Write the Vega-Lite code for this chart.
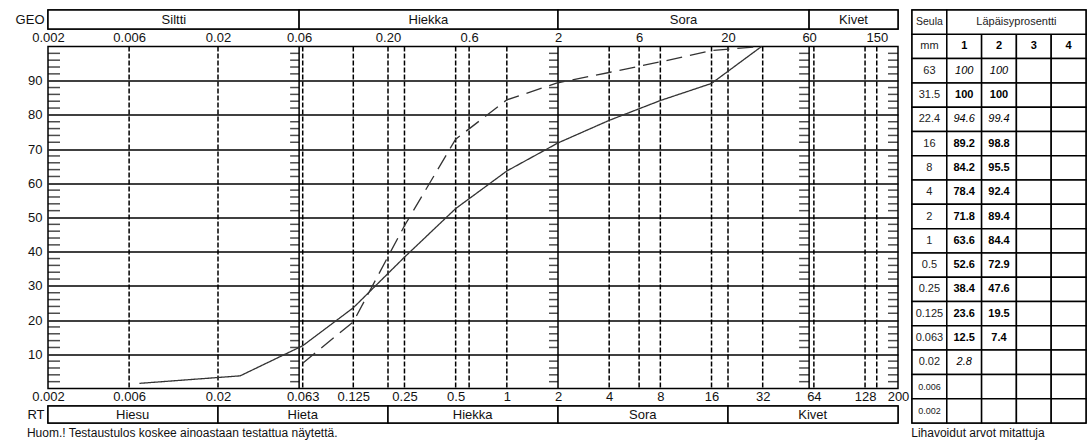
{
  "$schema": "https://vega.github.io/schema/vega-lite/v6.json",
  "background": "white",
  "padding": {"left": 14, "top": 8, "right": 0, "bottom": 0},
  "config": {
    "font": "Liberation Sans",
    "view": {"stroke": "black", "strokeWidth": 1.5},
    "axis": {"labelFont": "Liberation Sans", "labelColor": "#111"},
    "title": {"font": "Liberation Sans", "color": "#111", "fontWeight": "normal"}
  },
  "datasets": {
    "geo": [
      {"band": "GEO", "name": "Siltti", "from": 0.002, "to": 0.06, "mid": 0.011},
      {"band": "GEO", "name": "Hiekka", "from": 0.06, "to": 2, "mid": 0.346},
      {"band": "GEO", "name": "Sora", "from": 2, "to": 60, "mid": 10.95},
      {"band": "GEO", "name": "Kivet", "from": 60, "to": 200, "mid": 109.5}
    ],
    "rt": [
      {"band": "RT", "name": "Hiesu", "from": 0.002, "to": 0.02, "mid": 0.0063},
      {"band": "RT", "name": "Hieta", "from": 0.02, "to": 0.2, "mid": 0.063},
      {"band": "RT", "name": "Hiekka", "from": 0.2, "to": 2, "mid": 0.63},
      {"band": "RT", "name": "Sora", "from": 2, "to": 20, "mid": 6.3},
      {"band": "RT", "name": "Kivet", "from": 20, "to": 200, "mid": 63}
    ],
    "dashlines": [
      {"d": 0.006}, {"d": 0.02}, {"d": 0.063}, {"d": 0.125}, {"d": 0.2}, {"d": 0.25},
      {"d": 0.5}, {"d": 0.6}, {"d": 1}, {"d": 4}, {"d": 6}, {"d": 8}, {"d": 16},
      {"d": 20}, {"d": 32}, {"d": 64}, {"d": 128}, {"d": 150}
    ],
    "solidlines": [{"d": 0.06}, {"d": 2}, {"d": 60}],
    "minor": [
      {"p": 2}, {"p": 4}, {"p": 6}, {"p": 8}, {"p": 12}, {"p": 14}, {"p": 16}, {"p": 18},
      {"p": 22}, {"p": 24}, {"p": 26}, {"p": 28}, {"p": 32}, {"p": 34}, {"p": 36}, {"p": 38},
      {"p": 42}, {"p": 44}, {"p": 46}, {"p": 48}, {"p": 52}, {"p": 54}, {"p": 56}, {"p": 58},
      {"p": 62}, {"p": 64}, {"p": 66}, {"p": 68}, {"p": 72}, {"p": 74}, {"p": 76}, {"p": 78},
      {"p": 82}, {"p": 84}, {"p": 86}, {"p": 88}, {"p": 92}, {"p": 94}, {"p": 96}, {"p": 98}
    ],
    "curves": [
      {"s": "1", "d": 0.0069, "p": 1.5},
      {"s": "1", "d": 0.027, "p": 3.7},
      {"s": "1", "d": 0.063, "p": 12.5},
      {"s": "1", "d": 0.125, "p": 23.6},
      {"s": "1", "d": 0.25, "p": 38.4},
      {"s": "1", "d": 0.5, "p": 52.6},
      {"s": "1", "d": 1, "p": 63.6},
      {"s": "1", "d": 2, "p": 71.8},
      {"s": "1", "d": 4, "p": 78.4},
      {"s": "1", "d": 8, "p": 84.2},
      {"s": "1", "d": 16, "p": 89.2},
      {"s": "1", "d": 31.5, "p": 100},
      {"s": "2", "d": 0.063, "p": 7.4},
      {"s": "2", "d": 0.125, "p": 19.5},
      {"s": "2", "d": 0.25, "p": 47.6},
      {"s": "2", "d": 0.5, "p": 72.9},
      {"s": "2", "d": 1, "p": 84.4},
      {"s": "2", "d": 2, "p": 89.4},
      {"s": "2", "d": 4, "p": 92.4},
      {"s": "2", "d": 8, "p": 95.5},
      {"s": "2", "d": 16, "p": 98.8},
      {"s": "2", "d": 22.4, "p": 99.4},
      {"s": "2", "d": 31.5, "p": 100}
    ],
    "tbl": [
      {"row": "mm", "c1": "1", "c2": "2", "c3": "3", "c4": "4", "kind": "h"},
      {"row": "63", "c1": "100", "c2": "100", "c3": "", "c4": "", "kind": "c"},
      {"row": "31.5", "c1": "100", "c2": "100", "c3": "", "c4": "", "kind": "m"},
      {"row": "22.4", "c1": "94.6", "c2": "99.4", "c3": "", "c4": "", "kind": "c"},
      {"row": "16", "c1": "89.2", "c2": "98.8", "c3": "", "c4": "", "kind": "m"},
      {"row": "8", "c1": "84.2", "c2": "95.5", "c3": "", "c4": "", "kind": "m"},
      {"row": "4", "c1": "78.4", "c2": "92.4", "c3": "", "c4": "", "kind": "m"},
      {"row": "2", "c1": "71.8", "c2": "89.4", "c3": "", "c4": "", "kind": "m"},
      {"row": "1", "c1": "63.6", "c2": "84.4", "c3": "", "c4": "", "kind": "m"},
      {"row": "0.5", "c1": "52.6", "c2": "72.9", "c3": "", "c4": "", "kind": "m"},
      {"row": "0.25", "c1": "38.4", "c2": "47.6", "c3": "", "c4": "", "kind": "m"},
      {"row": "0.125", "c1": "23.6", "c2": "19.5", "c3": "", "c4": "", "kind": "m"},
      {"row": "0.063", "c1": "12.5", "c2": "7.4", "c3": "", "c4": "", "kind": "m"},
      {"row": "0.02", "c1": "2.8", "c2": "", "c3": "", "c4": "", "kind": "c"},
      {"row": "0.006", "c1": "", "c2": "", "c3": "", "c4": "", "kind": "c"},
      {"row": "0.002", "c1": "", "c2": "", "c3": "", "c4": "", "kind": "c"}
    ],
    "thead": [
      {"row": "h1", "col": "row", "to": "row", "v": "Seula"},
      {"row": "h1", "col": "c1", "to": "c4", "v": "Läpäisyprosentti"}
    ]
  },
  "bounds": "full",
  "spacing": 0,
  "hconcat": [
    {
      "bounds": "flush",
      "spacing": 17.5,
      "vconcat": [
        {
          "width": 850,
          "height": 19,
          "data": {"name": "geo"},
          "encoding": {
            "y": {"field": "band", "type": "nominal", "scale": {"paddingInner": 0, "paddingOuter": 0},
                  "axis": {"title": null, "ticks": false, "domain": false, "labelFontSize": 13, "labelPadding": 4}}
          },
          "layer": [
            {"mark": {"type": "rect", "fill": "white", "stroke": "black", "strokeWidth": 1.5},
             "encoding": {
               "x": {"field": "from", "type": "quantitative", "scale": {"type": "log", "domain": [0.002, 200], "nice": false},
                     "axis": {"orient": "bottom", "title": null, "values": [0.002, 0.006, 0.02, 0.06, 0.2, 0.6, 2, 6, 20, 60, 150],
                              "labelExpr": "datum.value == 0.2 ? '0.20' : format(datum.value, '~g')",
                              "labelOverlap": false, "labelFlush": false, "ticks": false, "domain": false, "grid": false,
                              "labelFontSize": 13, "labelPadding": 2}},
               "x2": {"field": "to"}
             }},
            {"mark": {"type": "text", "fontSize": 13, "color": "#111"},
             "encoding": {
               "x": {"field": "mid", "type": "quantitative"},
               "text": {"field": "name"}
             }}
          ]
        },
        {
          "width": 850,
          "height": 342,
          "layer": [
            {"data": {"name": "dashlines"},
             "mark": {"type": "rule", "strokeDash": [5, 2], "strokeWidth": 1.5, "color": "black"},
             "encoding": {
               "x": {"field": "d", "type": "quantitative", "scale": {"type": "log", "domain": [0.002, 200], "nice": false},
                     "axis": {"title": null, "values": [0.002, 0.006, 0.02, 0.063, 0.125, 0.25, 0.5, 1, 2, 4, 8, 16, 32, 64, 128, 200],
                              "format": "~g", "labelOverlap": false, "labelFlush": false, "ticks": false, "domain": false, "grid": false,
                              "labelFontSize": 13, "labelPadding": 2}}
             }},
            {"data": {"name": "solidlines"},
             "mark": {"type": "rule", "strokeWidth": 1.5, "color": "black"},
             "encoding": {
               "x": {"field": "d", "type": "quantitative"}
             }},
            {"data": {"name": "minor"},
             "mark": {"type": "tick", "orient": "horizontal", "size": 12, "thickness": 1.5, "color": "black", "xOffset": 6},
             "encoding": {
               "x": {"datum": 0.002, "type": "quantitative"},
               "y": {"field": "p", "type": "quantitative", "scale": {"domain": [0, 100], "nice": false},
                     "axis": {"title": null, "values": [10, 20, 30, 40, 50, 60, 70, 80, 90], "grid": true, "gridColor": "black", "gridWidth": 1.5, "gridOpacity": 1,
                              "ticks": false, "domain": false, "labelFontSize": 13, "labelPadding": 6}}
             }},
            {"data": {"name": "minor"},
             "mark": {"type": "tick", "orient": "horizontal", "size": 9, "thickness": 1.5, "color": "black", "xOffset": -4.5},
             "encoding": {"x": {"datum": 0.06, "type": "quantitative"}, "y": {"field": "p", "type": "quantitative"}}},
            {"data": {"name": "minor"},
             "mark": {"type": "tick", "orient": "horizontal", "size": 9, "thickness": 1.5, "color": "black", "xOffset": -4.5},
             "encoding": {"x": {"datum": 2, "type": "quantitative"}, "y": {"field": "p", "type": "quantitative"}}},
            {"data": {"name": "minor"},
             "mark": {"type": "tick", "orient": "horizontal", "size": 10, "thickness": 1.5, "color": "black", "xOffset": -5},
             "encoding": {"x": {"datum": 60, "type": "quantitative"}, "y": {"field": "p", "type": "quantitative"}}},
            {"data": {"name": "minor"},
             "mark": {"type": "tick", "orient": "horizontal", "size": 10, "thickness": 1.5, "color": "black", "xOffset": -5},
             "encoding": {"x": {"datum": 200, "type": "quantitative"}, "y": {"field": "p", "type": "quantitative"}}},
            {"data": {"name": "curves"},
             "mark": {"type": "line", "color": "#333", "strokeWidth": 1.3},
             "encoding": {
               "x": {"field": "d", "type": "quantitative"},
               "y": {"field": "p", "type": "quantitative"},
               "detail": {"field": "s"},
               "strokeDash": {"field": "s", "type": "nominal", "scale": {"domain": ["1", "2"], "range": [[1, 0], [16, 8]]}, "legend": null}
             }}
          ]
        },
        {
          "width": 850,
          "height": 17,
          "data": {"name": "rt"},
          "title": {"text": "Huom.! Testaustulos koskee ainoastaan testattua näytettä.", "orient": "bottom", "anchor": "start", "frame": "bounds", "fontSize": 12, "offset": 4},
          "encoding": {
            "y": {"field": "band", "type": "nominal", "scale": {"paddingInner": 0, "paddingOuter": 0},
                  "axis": {"title": null, "ticks": false, "domain": false, "labelFontSize": 13, "labelPadding": 4}}
          },
          "layer": [
            {"mark": {"type": "rect", "fill": "white", "stroke": "black", "strokeWidth": 1.5},
             "encoding": {
               "x": {"field": "from", "type": "quantitative", "scale": {"type": "log", "domain": [0.002, 200], "nice": false}, "axis": null},
               "x2": {"field": "to"}
             }},
            {"mark": {"type": "text", "fontSize": 13, "color": "#111"},
             "encoding": {
               "x": {"field": "mid", "type": "quantitative", "axis": null},
               "text": {"field": "name"}
             }}
          ]
        }
      ]
    },
    {
      "width": 174,
      "height": 413,
      "title": {"text": "Lihavoidut arvot mitattuja", "orient": "bottom", "anchor": "start", "frame": "bounds", "fontSize": 12, "offset": 4},
      "encoding": {
        "x": {"field": "col", "type": "nominal", "scale": {"domain": ["row", "c1", "c2", "c3", "c4"], "paddingInner": 0, "paddingOuter": 0}, "axis": null},
        "y": {"field": "row", "type": "nominal", "scale": {"domain": ["h1", "mm", "63", "31.5", "22.4", "16", "8", "4", "2", "1", "0.5", "0.25", "0.125", "0.063", "0.02", "0.006", "0.002"], "paddingInner": 0, "paddingOuter": 0}, "axis": null}
      },
      "layer": [
        {"data": {"name": "tbl"},
         "transform": [{"fold": ["row", "c1", "c2", "c3", "c4"], "as": ["col", "v"]}],
         "mark": {"type": "rect", "fill": "white", "stroke": "black", "strokeWidth": 1.5}},
        {"data": {"name": "thead"},
         "mark": {"type": "rect", "fill": "white", "stroke": "black", "strokeWidth": 1.5},
         "encoding": {
           "x": {"field": "col", "type": "nominal", "bandPosition": 0},
           "x2": {"field": "to", "bandPosition": 1}
         }},
        {"data": {"name": "thead"},
         "transform": [{"filter": "datum.col == 'row'"}],
         "mark": {"type": "text", "fontSize": 10.5, "color": "#222"},
         "encoding": {"text": {"field": "v"}}},
        {"data": {"name": "thead"},
         "transform": [{"filter": "datum.col == 'c1'"}],
         "mark": {"type": "text", "fontSize": 11, "color": "#222"},
         "encoding": {"x": {"datum": "c2", "type": "nominal", "bandPosition": 1}, "text": {"field": "v"}}},
        {"data": {"name": "tbl"},
         "transform": [{"fold": ["row", "c1", "c2", "c3", "c4"], "as": ["col", "v"]}, {"filter": "datum.col == 'row' && datum.row != '0.006' && datum.row != '0.002'"}],
         "mark": {"type": "text", "fontSize": 11, "color": "#222"},
         "encoding": {"text": {"field": "v"}}},
        {"data": {"name": "tbl"},
         "transform": [{"fold": ["row", "c1", "c2", "c3", "c4"], "as": ["col", "v"]}, {"filter": "datum.col == 'row' && (datum.row == '0.006' || datum.row == '0.002')"}],
         "mark": {"type": "text", "fontSize": 9, "color": "#222"},
         "encoding": {"text": {"field": "v"}}},
        {"data": {"name": "tbl"},
         "transform": [{"fold": ["row", "c1", "c2", "c3", "c4"], "as": ["col", "v"]}, {"filter": "datum.col != 'row' && datum.kind != 'c'"}],
         "mark": {"type": "text", "fontSize": 11, "fontWeight": "bold", "color": "#000"},
         "encoding": {"text": {"field": "v"}}},
        {"data": {"name": "tbl"},
         "transform": [{"fold": ["row", "c1", "c2", "c3", "c4"], "as": ["col", "v"]}, {"filter": "datum.col != 'row' && datum.kind == 'c'"}],
         "mark": {"type": "text", "fontSize": 11, "fontStyle": "italic", "color": "#000"},
         "encoding": {"text": {"field": "v"}}}
      ]
    }
  ]
}
